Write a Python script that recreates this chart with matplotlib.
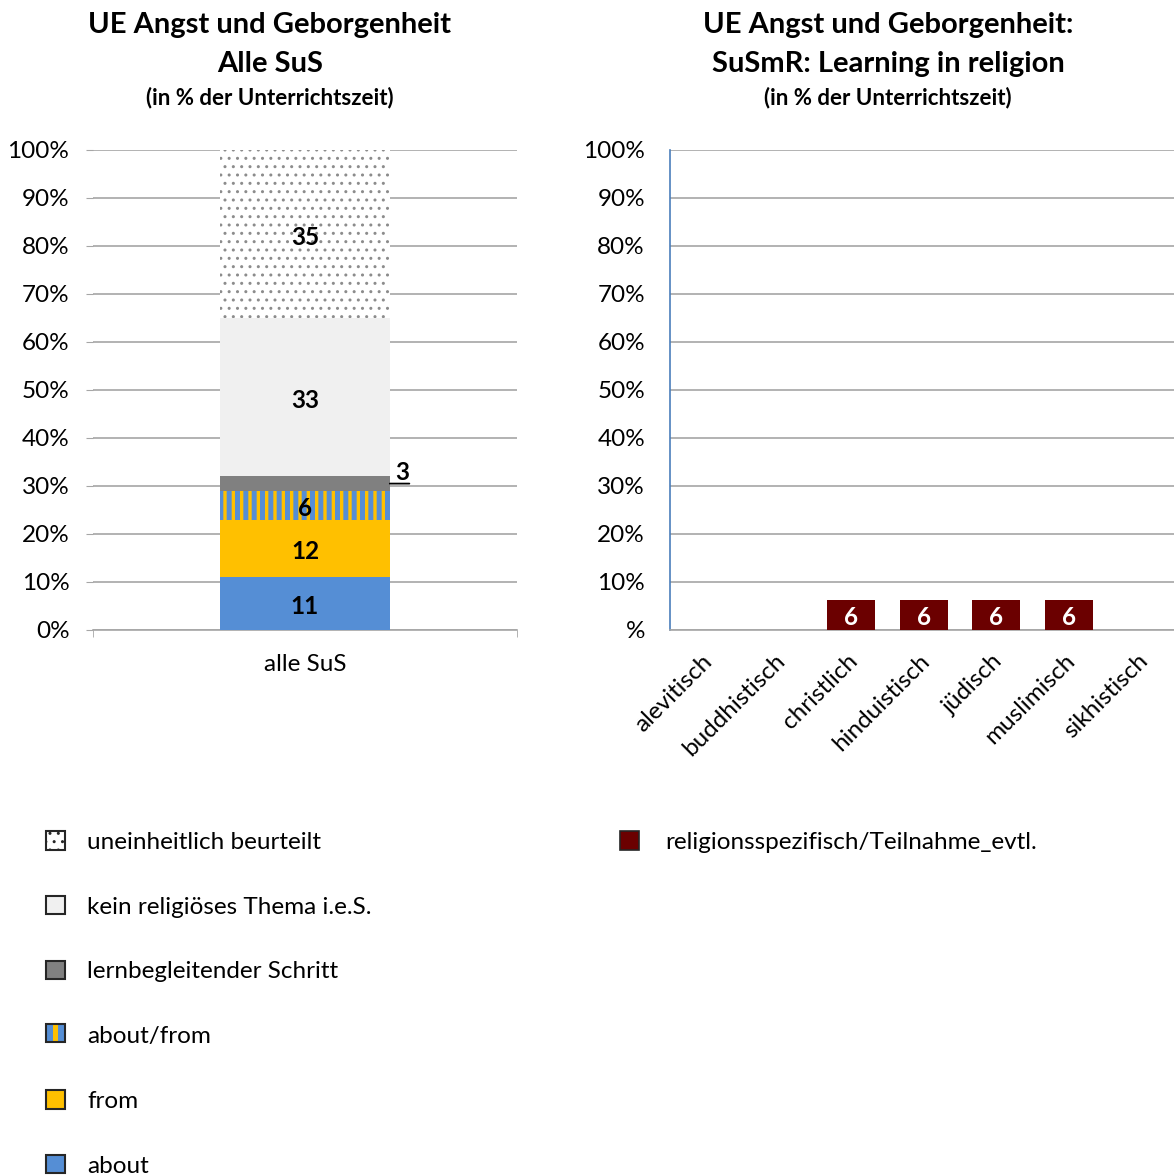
import matplotlib
matplotlib.use("Agg")
import matplotlib.pyplot as plt
import matplotlib.transforms as mtransforms
from matplotlib.patches import Patch, Rectangle

# ---------------- data ----------------
left_category = ["alle SuS"]
left_series = ["about", "from", "about/from", "lernbegleitender Schritt",
               "kein religiöses Thema i.e.S.", "uneinheitlich beurteilt"]
left_values = [11, 12, 6, 3, 33, 35]

right_categories = ["alevitisch", "buddhistisch", "christlich", "hinduistisch",
                    "jüdisch", "muslimisch", "sikhistisch"]
right_values = [0, 0, 6.3, 6.3, 6.3, 6.3, 0]
right_series = "religionsspezifisch/Teilnahme_evtl."

yticks = [0, 10, 20, 30, 40, 50, 60, 70, 80, 90, 100]
left_ytick_labels = ["0%", "10%", "20%", "30%", "40%", "50%", "60%", "70%", "80%", "90%", "100%"]
right_ytick_labels = ["%", "10%", "20%", "30%", "40%", "50%", "60%", "70%", "80%", "90%", "100%"]

# ---------------- style ----------------
FONT = ["Lato", "DejaVu Sans"]
plt.rcParams["font.family"] = FONT
plt.rcParams["hatch.linewidth"] = 1.0

W, H = 1174, 1176
fig = plt.figure(figsize=(W / 100, H / 100), dpi=100)

GRID = "#a6a6a6"
BLUE = "#558ed5"
YELLOW = "#ffc000"
TICKFS = 17.5
LABFS = 17.5

styles = [
    dict(color=BLUE, hatch=None, edge=BLUE),
    dict(color=YELLOW, hatch=None, edge=YELLOW),
    dict(color=YELLOW, hatch="||", edge=BLUE, hlw=3.6),
    dict(color="#808080", hatch=None, edge="#808080"),
    dict(color="#f0f0f0", hatch=None, edge="#f0f0f0"),
    dict(color="white", hatch="..", edge="#8c8c8c", hlw=1.0),
]

# ---------------- left chart ----------------
axL = fig.add_axes([93 / W, 1 - 630 / H, 424 / W, 480 / H])
bottom = 0
for name, val, st in zip(left_series, left_values, styles):
    b = axL.bar([0], [val], bottom=bottom, width=0.40, color=st["color"],
                edgecolor=st["edge"], linewidth=0, hatch=st["hatch"], label=name, zorder=3)
    if st["hatch"] is not None:
        for p in b.patches:
            if hasattr(p, "set_hatch_linewidth"):
                p.set_hatch_linewidth(st["hlw"])
    mid = bottom + val / 2
    if name == "lernbegleitender Schritt":
        axL.annotate(str(val), xy=(0.2, mid), xytext=(4, 0), textcoords="offset points",
                     ha="left", va="bottom", fontsize=LABFS, fontweight="bold",
                     arrowprops=dict(arrowstyle="-", color="black", lw=1.3,
                                     relpos=(1, 0), shrinkA=0, shrinkB=0, patchA=None))
    else:
        axL.annotate(str(val), xy=(0, mid), xytext=(0, -2.2), textcoords="offset points",
                     ha="center", va="center", fontsize=LABFS, fontweight="bold", zorder=4)
    bottom += val

axL.set_xlim(-0.5, 0.5)
axL.set_ylim(0, 100)
axL.set_yticks(yticks)
axL.set_yticklabels(left_ytick_labels, fontsize=TICKFS)
axL.set_xticks([0])
axL.set_xticklabels(left_category, fontsize=TICKFS)
axL.set_xticks([-0.5, 0.5], minor=True)
axL.tick_params(axis="x", which="major", length=0, pad=17)
axL.tick_params(axis="x", which="minor", length=5, color=GRID, direction="out")
axL.tick_params(axis="y", length=5, color=GRID, pad=12)
axL.grid(axis="y", color=GRID, linewidth=1.2, zorder=0)
axL.set_axisbelow(True)
for s in ["top", "right", "left"]:
    axL.spines[s].set_visible(False)
axL.spines["bottom"].set_color(GRID)
axL.spines["bottom"].set_linewidth(1.2)

# ---------------- right chart ----------------
axR = fig.add_axes([670 / W, 1 - 630 / H, 507.5 / W, 480 / H])
xs = list(range(len(right_categories)))
axR.bar(xs, right_values, width=0.66, color="#6b0000", edgecolor="#6b0000",
        linewidth=0, label=right_series, zorder=3)
for x, v in zip(xs, right_values):
    if v > 0:
        axR.annotate(f"{v:.0f}", xy=(x, v / 2), xytext=(0, -2.2), textcoords="offset points",
                     ha="center", va="center", color="white",
                     fontsize=LABFS, fontweight="bold", zorder=4)
axR.set_xlim(-0.5, len(right_categories) - 0.5)
axR.set_ylim(0, 100)
axR.set_yticks(yticks)
axR.set_yticklabels(right_ytick_labels, fontsize=TICKFS)
axR.tick_params(axis="y", length=0, pad=18)
axR.set_xticks(xs)
axR.set_xticklabels(right_categories, fontsize=TICKFS, rotation=45, ha="right",
                    va="center", rotation_mode="anchor")
axR.tick_params(axis="x", length=0, pad=20)
offset = mtransforms.ScaledTranslation(3 / 100, 0, fig.dpi_scale_trans)
for lbl in axR.get_xticklabels():
    lbl.set_transform(lbl.get_transform() + offset)
axR.grid(axis="y", color=GRID, linewidth=1.2, zorder=0)
axR.set_axisbelow(True)
for s in ["top", "right"]:
    axR.spines[s].set_visible(False)
axR.spines["bottom"].set_color(GRID)
axR.spines["bottom"].set_linewidth(1.2)
axR.spines["left"].set_color("#4a7ebb")
axR.spines["left"].set_linewidth(1.2)

# ---------------- titles ----------------
TFS = 21
SFS = 16
fig.text(270 / W, 1 - 25 / H, "UE Angst und Geborgenheit", ha="center", va="center",
         fontsize=TFS, fontweight="bold")
fig.text(270 / W, 1 - 64 / H, "Alle SuS", ha="center", va="center",
         fontsize=TFS, fontweight="bold")
fig.text(270 / W, 1 - 98 / H, "(in % der Unterrichtszeit)", ha="center", va="center",
         fontsize=SFS, fontweight="bold")
fig.text(888 / W, 1 - 25 / H, "UE Angst und Geborgenheit:", ha="center", va="center",
         fontsize=TFS, fontweight="bold")
fig.text(888 / W, 1 - 64 / H, "SuSmR: Learning in religion", ha="center", va="center",
         fontsize=TFS, fontweight="bold")
fig.text(888 / W, 1 - 98 / H, "(in % der Unterrichtszeit)", ha="center", va="center",
         fontsize=SFS, fontweight="bold")


# ---------------- legends ----------------
class StripeHandler:
    def legend_artist(self, legend, orig_handle, fontsize, handlebox):
        x0, y0 = handlebox.xdescent, handlebox.ydescent
        w, h = handlebox.width, handlebox.height
        tr = handlebox.get_transform()
        r1 = Rectangle((x0, y0), w, h, facecolor=BLUE, linewidth=0, transform=tr)
        r2 = Rectangle((x0 + w * 0.38, y0), w * 0.24, h, facecolor=YELLOW, linewidth=0,
                       transform=tr)
        r3 = Rectangle((x0, y0), w, h, facecolor="none", edgecolor="#262626",
                       linewidth=1.5, transform=tr)
        for r in (r1, r2, r3):
            handlebox.add_artist(r)
        return r3


handles = []
for name, st in zip(left_series, styles):
    h = Patch(facecolor=st["color"], edgecolor="#262626", hatch=st["hatch"],
              linewidth=1.5, label=name)
    handles.append(h)
handles[2] = Patch(facecolor=BLUE, edgecolor="#262626", linewidth=1.5, label=left_series[2])
stripe_handle = handles[2]
handles = handles[::-1]
LEGFS = TICKFS
fig.legend(handles=handles, loc="upper left", bbox_to_anchor=(46 / W, 1 - 831 / H),
           frameon=False, fontsize=LEGFS, handlelength=0.8, handleheight=0.8,
           handletextpad=0.9, labelspacing=1.77, borderaxespad=0, borderpad=0,
           handler_map={stripe_handle: StripeHandler()})
fig.legend(handles=[Patch(facecolor="#6b0000", edgecolor="#262626", linewidth=1.2,
                          label=right_series)],
           loc="upper left", bbox_to_anchor=(620 / W, 1 - 831 / H),
           frameon=False, fontsize=LEGFS, handlelength=0.8, handleheight=0.8,
           handletextpad=1.05, borderaxespad=0, borderpad=0)

fig.savefig("out.png", dpi=100)
